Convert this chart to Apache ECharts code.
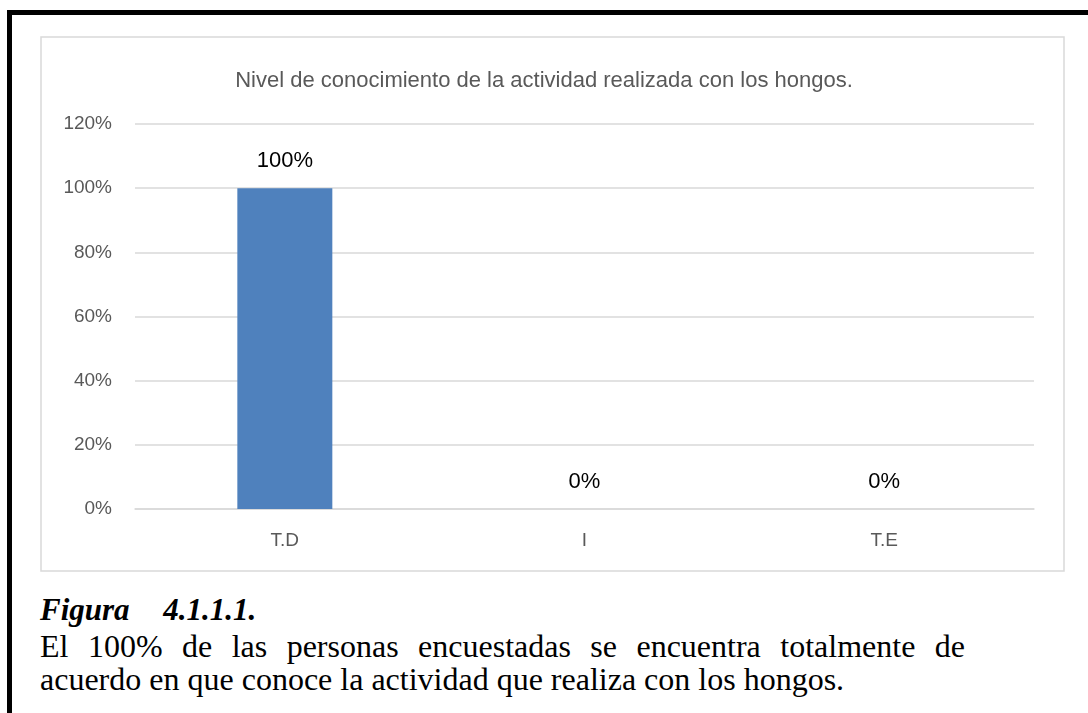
<!doctype html>
<html lang="es">
<head>
<meta charset="UTF-8">
<title>Nivel de conocimiento</title>
<script src="https://cdn.jsdelivr.net/npm/echarts@6/dist/echarts.min.js"></script>
<style>
  body { margin: 0; width: 1088px; height: 713px; overflow: hidden; background: #fff; position: relative; }
  .frame { position: absolute; left: 7px; top: 10px; right: 0; bottom: 0; border-left: 5px solid #000; border-top: 5px solid #000; }
  #chart { position: absolute; left: 0; top: 0; width: 1088px; height: 580px; }
  .cap { position: absolute; left: 40px; font-family: "Liberation Serif", "Times New Roman", serif; color: #000; white-space: nowrap; line-height: 36px; }
  .fig { top: 592px; font-size: 31px; font-weight: bold; font-style: italic; word-spacing: 26px; }
  .l2 { top: 628px; width: 925px; font-size: 32px; text-align: justify; text-align-last: justify; white-space: normal; }
  .l3 { top: 661px; font-size: 32px; }
</style>
</head>
<body>
<div class="frame"></div>
<div id="chart"></div>
<div class="cap fig">Figura 4.1.1.1.</div>
<div class="cap l2">El 100% de las personas encuestadas se encuentra totalmente de</div>
<div class="cap l3">acuerdo en que conoce la actividad que realiza con los hongos.</div>
<script>
  // datos del gráfico
  var categorias = ['T.D', 'I', 'T.E'];
  var valores = [100, 0, 0];
  var titulo = 'Nivel de conocimiento de la actividad realizada con los hongos.';

  var chart = echarts.init(document.getElementById('chart'));
  var gris = '#595959';
  var fuente = '"Liberation Sans", Arial, sans-serif';

  chart.setOption({
    animation: false,
    title: {
      text: titulo,
      left: 'center',
      top: 65,
      textStyle: { color: gris, fontSize: 22, fontWeight: 'normal', fontFamily: fuente }
    },
    graphic: [{
      type: 'rect',
      shape: { x: 41, y: 37, width: 1023, height: 534 },
      style: { fill: 'none', stroke: '#d9d9d9', lineWidth: 1.5 },
      silent: true
    }],
    grid: { left: 135, right: 54, top: 124, bottom: 71 },
    xAxis: {
      type: 'category',
      data: categorias,
      axisLine: { lineStyle: { color: '#d9d9d9', width: 1.5 } },
      axisTick: { show: false },
      axisLabel: { color: gris, fontSize: 19, fontFamily: fuente, margin: 22 }
    },
    yAxis: {
      type: 'value',
      min: 0,
      max: 120,
      interval: 20,
      axisLine: { show: false },
      axisTick: { show: false },
      splitLine: { lineStyle: { color: '#d9d9d9', width: 1.5 } },
      axisLabel: { color: gris, fontSize: 19, fontFamily: fuente, margin: 23, formatter: '{value}%' }
    },
    series: [{
      type: 'bar',
      data: valores,
      barWidth: '31.7%',
      itemStyle: { color: '#4f81bd' },
      label: {
        show: true,
        position: 'top',
        distance: 16,
        color: '#000',
        fontSize: 22,
        fontFamily: fuente,
        formatter: '{c}%'
      }
    }]
  });
</script>
</body>
</html>
